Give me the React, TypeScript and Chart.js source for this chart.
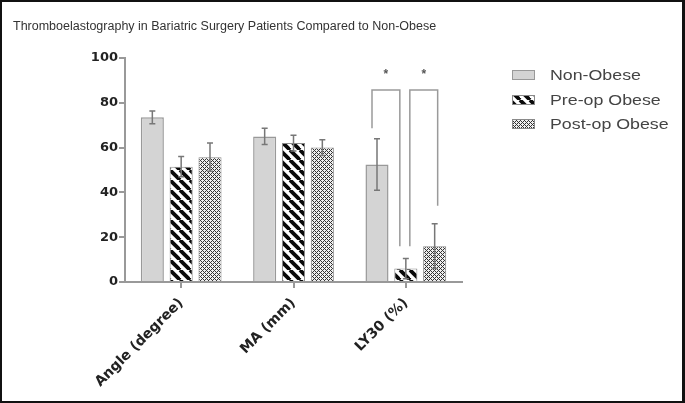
import React, { useEffect, useRef } from 'react';
import { Chart, registerables } from 'chart.js';

Chart.register(...registerables);

const titleText = 'Thromboelastography in Bariatric Surgery Patients Compared to Non-Obese';
const categories = ['Angle (degree)', 'MA (mm)', 'LY30 (%)'];
const seriesNames = ['Non-Obese', 'Pre-op Obese', 'Post-op Obese'];
const nonObese = [73.5, 65, 52.5];
const nonObeseErr = [2.8, 3.6, 11.5];
const preOp = [51.5, 62, 6];
const preOpErr = [4.5, 3.5, 4.5];
const postOp = [55.7, 60, 16];
const postOpErr = [6.3, 3.5, 10];
const yTicks = [0, 20, 40, 60, 80, 100];
// significance brackets within LY30 category: series index from/to, heights in data units
const bracketCat = [2, 2];
const bracketFrom = [0, 1];
const bracketTo = [1, 2];
const bracketTop = [85.7, 85.7];
const bracketFromEnd = [68.6, 16];
const bracketToEnd = [16, 34];
const bracketLabel = ['*', '*'];

function makeStripes(): CanvasPattern | string {
  const c = document.createElement('canvas');
  c.width = 10;
  c.height = 10;
  const g = c.getContext('2d');
  if (!g) return '#000';
  g.fillStyle = '#fff';
  g.fillRect(0, 0, 10, 10);
  g.strokeStyle = '#0a0a0a';
  g.lineWidth = 3.8;
  for (const o of [-10, 0, 10]) {
    g.beginPath();
    g.moveTo(o, 0);
    g.lineTo(o + 10, 10);
    g.stroke();
  }
  return g.createPattern(c, 'repeat') || '#000';
}

function makeHatch(): CanvasPattern | string {
  const c = document.createElement('canvas');
  c.width = 4;
  c.height = 4;
  const g = c.getContext('2d');
  if (!g) return '#888';
  g.fillStyle = '#f0f0f0';
  g.fillRect(0, 0, 4, 4);
  g.fillStyle = '#333';
  const pts = [[0, 0], [1, 1], [2, 2], [3, 3], [3, 1], [1, 3]];
  for (const [x, y] of pts) g.fillRect(x, y, 1, 1);
  return g.createPattern(c, 'repeat') || '#888';
}

export default function App() {
  const ref = useRef<HTMLCanvasElement | null>(null);

  useEffect(() => {
    document.body.style.margin = '0';
    const canvas = ref.current;
    if (!canvas) return;
    const stripes = makeStripes();
    const hatch = makeHatch();
    const fills: any[] = ['#d4d4d4', stripes, hatch];
    const borders = ['#999999', '#8a8a8a', '#8a8a8a'];
    const errs = [nonObeseErr, preOpErr, postOpErr];

    const decor = {
      id: 'decor',
      beforeDraw(chart: any) {
        const ctx = chart.ctx;
        ctx.save();
        ctx.fillStyle = '#ffffff';
        ctx.fillRect(0, 0, chart.width, chart.height);
        ctx.restore();
      },
      afterDatasetsDraw(chart: any) {
        const ctx = chart.ctx;
        const ys = chart.scales.y;
        ctx.save();
        // error bars
        ctx.strokeStyle = '#777';
        ctx.lineWidth = 1.5;
        chart.data.datasets.forEach((ds: any, i: number) => {
          const meta = chart.getDatasetMeta(i);
          meta.data.forEach((bar: any, j: number) => {
            const v = ds.data[j];
            const e = errs[i][j];
            const yTop = ys.getPixelForValue(v + e);
            const yBot = ys.getPixelForValue(Math.max(0, v - e));
            ctx.beginPath();
            ctx.moveTo(bar.x, yTop);
            ctx.lineTo(bar.x, yBot);
            ctx.moveTo(bar.x - 3, yTop);
            ctx.lineTo(bar.x + 3, yTop);
            ctx.moveTo(bar.x - 3, yBot);
            ctx.lineTo(bar.x + 3, yBot);
            ctx.stroke();
          });
        });
        // significance brackets
        ctx.strokeStyle = '#9a9a9a';
        ctx.lineWidth = 1.5;
        const offs = [[-5, -6], [4, 3]];
        bracketFrom.forEach((f, k) => {
          const cat = bracketCat[k];
          const xa = chart.getDatasetMeta(f).data[cat].x + offs[k][0];
          const xb = chart.getDatasetMeta(bracketTo[k]).data[cat].x + offs[k][1];
          const yt = ys.getPixelForValue(bracketTop[k]);
          ctx.beginPath();
          ctx.moveTo(xa, ys.getPixelForValue(bracketFromEnd[k]));
          ctx.lineTo(xa, yt);
          ctx.lineTo(xb, yt);
          ctx.lineTo(xb, ys.getPixelForValue(bracketToEnd[k]));
          ctx.stroke();
          ctx.fillStyle = '#555';
          ctx.font = 'bold 12px "Liberation Sans"';
          ctx.textAlign = 'center';
          ctx.textBaseline = 'alphabetic';
          ctx.fillText(bracketLabel[k], (xa + xb) / 2, yt - 12);
        });
        ctx.restore();
      },
      afterDraw(chart: any) {
        const ctx = chart.ctx;
        ctx.save();
        // title
        ctx.fillStyle = '#333';
        ctx.font = '12.5px "Liberation Sans"';
        ctx.textAlign = 'left';
        ctx.textBaseline = 'alphabetic';
        ctx.fillText(titleText, 13, 30);
        // legend
        const rowY = [75, 100, 124];
        seriesNames.forEach((name, i) => {
          const y = rowY[i];
          ctx.fillStyle = fills[i];
          ctx.fillRect(512, y - 5, 23, 10);
          ctx.strokeStyle = borders[i];
          ctx.lineWidth = 1;
          ctx.strokeRect(512.5, y - 4.5, 22, 9);
          ctx.save();
          ctx.translate(550, y);
          ctx.scale(1.27, 1);
          ctx.fillStyle = '#444';
          ctx.font = '14px "Liberation Sans"';
          ctx.textAlign = 'left';
          ctx.textBaseline = 'middle';
          ctx.fillText(name, 0, 1);
          ctx.restore();
        });
        // frame
        ctx.fillStyle = '#111';
        ctx.fillRect(0, 0, chart.width, 2);
        ctx.fillRect(0, 0, 2, chart.height);
        ctx.fillRect(chart.width - 3, 0, 3, chart.height);
        ctx.fillRect(0, chart.height - 2, chart.width, 2);
        ctx.restore();
      },
    };

    const chart = new Chart(canvas, {
      type: 'bar',
      data: {
        labels: categories,
        datasets: [
          { label: seriesNames[0], data: nonObese, backgroundColor: fills[0], borderColor: borders[0], borderWidth: 1.5 },
          { label: seriesNames[1], data: preOp, backgroundColor: fills[1], borderColor: borders[1], borderWidth: 1 },
          { label: seriesNames[2], data: postOp, backgroundColor: fills[2], borderColor: borders[2], borderWidth: 1 },
        ],
      },
      options: {
        responsive: false,
        animation: false,
        devicePixelRatio: 1,
        layout: { padding: { left: 0, right: 223, top: 58, bottom: 0 } },
        datasets: { bar: { categoryPercentage: 0.77, barPercentage: 0.8 } },
        plugins: {
          legend: { display: false },
          title: { display: false },
          tooltip: { enabled: false },
        },
        scales: {
          x: {
            offset: true,
            afterFit: (s: any) => { s.height = 121; },
            grid: { display: true, drawOnChartArea: false, drawTicks: true, tickLength: 6, color: '#999', lineWidth: 2, offset: false },
            border: { display: true, color: '#999', width: 2 },
            ticks: {
              maxRotation: 45,
              minRotation: 45,
              color: '#222',
              padding: 7,
              font: { family: 'DejaVu Sans', weight: 'bold', size: 14 },
            },
          },
          y: {
            min: 0,
            max: 100,
            afterFit: (s: any) => { s.width = 125; },
            afterBuildTicks: (s: any) => { s.ticks = yTicks.map((v) => ({ value: v })); },
            grid: { display: true, drawOnChartArea: false, drawTicks: true, tickLength: 6, color: '#999', lineWidth: 2 },
            border: { display: true, color: '#999', width: 2 },
            ticks: {
              color: '#222',
              padding: 1,
              font: { family: 'DejaVu Sans', weight: 'bold', size: 13 },
            },
          },
        },
      },
      plugins: [decor],
    });
    return () => chart.destroy();
  }, []);

  return (
    <div style={{ position: 'absolute', left: 0, top: 0, width: 685, height: 403 }}>
      <canvas ref={ref} width={685} height={403} style={{ display: 'block', width: 685, height: 403 }} />
    </div>
  );
}
